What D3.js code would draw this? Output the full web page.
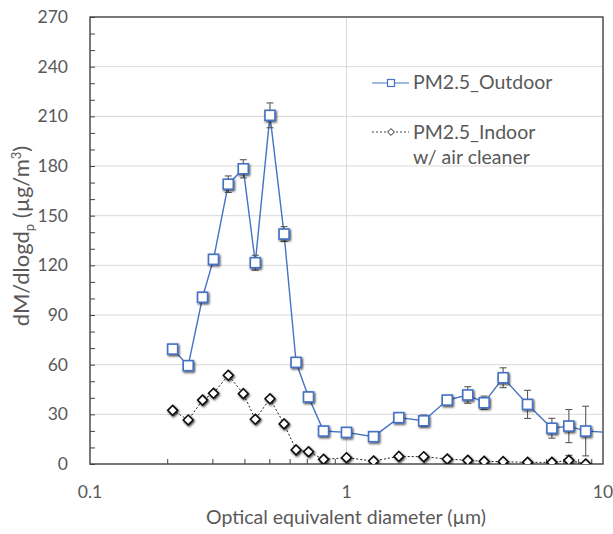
<!DOCTYPE html>
<html>
<head>
<meta charset="utf-8">
<script src="https://cdn.jsdelivr.net/npm/d3@7"></script>
<style>
  body { margin: 0; background: #fff; }
  text { font-family: Lato, "Open Sans", sans-serif; fill: #595959; }
</style>
</head>
<body>
<div id="chart"></div>
<script>
// particle size bins (µm), shared by both series
const diameters = [0.21, 0.2415, 0.2747, 0.303, 0.346, 0.396, 0.441, 0.503, 0.571, 0.636, 0.711, 0.814,
    1.0, 1.275, 1.6, 2.0, 2.47, 2.97, 3.44, 4.08, 5.08, 6.32, 7.36, 8.56, 11.5];
const outdoor = [69.4, 59.4, 100.7, 123.6, 169, 178.3, 121.6, 210.6, 138.9, 61.4, 40.5, 19.9,
    19.1, 16.5, 28, 26.1, 38.6, 41.7, 37, 52.1, 36, 21.6, 22.9, 19.9, 18.7];
const outdoorErr = [2, 2, 3, 3, 5, 5.5, 4.5, 7.5, 4.5, 2, 3, 2,
    1.5, 1, 3, 3.5, 2, 5, 4, 6, 8.5, 6, 10, 15, 0];
const indoor = [32.4, 26.6, 38.6, 42.7, 53.6, 42.5, 27, 39.4, 24.2, 8.5, 7.4, 2.8,
    3.8, 1.8, 4.6, 4.4, 3.0, 2.2, 1.6, 1.4, 1.0, 1.0, 2.2, 0.0];
const indoorErr = [1, 1, 1, 1, 1, 1, 1, 1, 1, 1, 1, 1,
    1, 1, 1, 1, 1, 1, 1, 1, 1, 1, 3, 1];
const yTicks = [0, 30, 60, 90, 120, 150, 180, 210, 240, 270];
const xTicks = [0.1, 1, 10];

const margin = { top: 17, right: 10, bottom: 70, left: 90 },
    width = 613 - margin.left - margin.right,
    height = 534 - margin.top - margin.bottom;

const svg = d3.select("#chart")
    .append("svg")
    .attr("width", 613)
    .attr("height", 534);

const defs = svg.append("defs");
defs.append("clipPath").attr("id", "plotclip")
    .append("rect").attr("width", width).attr("height", height + 8).attr("y", -8);
defs.append("filter").attr("id", "shadow")
    .attr("x", "-50%").attr("y", "-50%").attr("width", "200%").attr("height", "200%")
    .append("feDropShadow")
    .attr("dx", 1).attr("dy", 1.3).attr("stdDeviation", 1.3)
    .attr("flood-color", "#000").attr("flood-opacity", 0.75);

const g = svg.append("g")
    .attr("transform", `translate(${margin.left},${margin.top})`);

const x = d3.scaleLog().domain([0.1, 10]).range([0, width]);
const y = d3.scaleLinear().domain([0, 270]).range([height, 0]);

// gridlines
g.append("g")
    .selectAll("line")
    .data(yTicks.filter(d => d > 0 && d < 270))
    .join("line")
    .attr("x1", 0).attr("x2", width)
    .attr("y1", d => y(d)).attr("y2", d => y(d))
    .attr("stroke", "#d9d9d9").attr("stroke-width", 1);
g.append("line")
    .attr("x1", x(1)).attr("x2", x(1))
    .attr("y1", 0).attr("y2", height)
    .attr("stroke", "#d9d9d9").attr("stroke-width", 1);

// frame
g.append("rect")
    .attr("width", width).attr("height", height)
    .attr("fill", "none").attr("stroke", "#404040").attr("stroke-width", 1.4);

// Y axis (minor ticks every 10, inward)
const yAxis = g.append("g")
    .call(d3.axisLeft(y).tickValues(d3.range(0, 271, 10)).tickSize(-5).tickFormat(""));
yAxis.select(".domain").remove();
yAxis.selectAll("line").attr("stroke", "#404040");
g.append("g")
    .selectAll("text")
    .data(yTicks)
    .join("text")
    .attr("x", -22)
    .attr("y", d => y(d))
    .attr("dy", "0.35em")
    .attr("text-anchor", "end")
    .style("font-size", "17.5px")
    .text(d => d);

// X axis
const minorX = [];
[0.1, 1].forEach(dec => { for (let k = 2; k <= 9; k++) minorX.push(dec * k); });
const xAxis = g.append("g")
    .attr("transform", `translate(0, ${height})`)
    .call(d3.axisBottom(x).tickValues(minorX).tickSize(-5).tickFormat(""));
xAxis.select(".domain").remove();
xAxis.selectAll("line").attr("stroke", "#404040");
g.append("g")
    .selectAll("text")
    .data(xTicks)
    .join("text")
    .attr("x", d => x(d))
    .attr("y", height + 34)
    .attr("text-anchor", "middle")
    .style("font-size", "17.5px")
    .text(d => d);

// axis titles
svg.append("text")
    .attr("x", 346)
    .attr("y", 524)
    .attr("text-anchor", "middle")
    .style("font-size", "19.5px")
    .text("Optical equivalent diameter (µm)");

const yTitle = svg.append("text")
    .attr("transform", `translate(29, 236) rotate(-90)`)
    .attr("text-anchor", "middle")
    .style("font-size", "22px");
yTitle.append("tspan").text("dM/dlogd");
yTitle.append("tspan").attr("dy", 5).style("font-size", "13px").text("p");
yTitle.append("tspan").attr("dy", -5).text(" (µg/m");
yTitle.append("tspan").attr("dy", -8).style("font-size", "13px").text("3");
yTitle.append("tspan").attr("dy", 8).text(")");

const outData = diameters.map((d, i) => ({ d: d, v: outdoor[i], e: outdoorErr[i] }));
const inData = indoor.map((v, i) => ({ d: diameters[i], v: v, e: indoorErr[i] }));

const plot = g.append("g").attr("clip-path", "url(#plotclip)");

// error bars
function errorBars(data, color) {
    const eb = plot.append("g").attr("stroke", color).attr("stroke-width", 1.1);
    const withErr = data.filter(p => p.e > 0);
    eb.selectAll(".stem").data(withErr).join("line")
        .attr("x1", p => x(p.d)).attr("x2", p => x(p.d))
        .attr("y1", p => y(p.v - p.e)).attr("y2", p => y(p.v + p.e));
    eb.selectAll(".capT").data(withErr).join("line")
        .attr("x1", p => x(p.d) - 3.5).attr("x2", p => x(p.d) + 3.5)
        .attr("y1", p => y(p.v + p.e)).attr("y2", p => y(p.v + p.e));
    eb.selectAll(".capB").data(withErr).join("line")
        .attr("x1", p => x(p.d) - 3.5).attr("x2", p => x(p.d) + 3.5)
        .attr("y1", p => y(p.v - p.e)).attr("y2", p => y(p.v - p.e));
}

const line = d3.line().x(p => x(p.d)).y(p => y(p.v));

// indoor series
plot.append("path")
    .datum(inData)
    .attr("d", line)
    .attr("fill", "none")
    .attr("stroke", "#222")
    .attr("stroke-width", 1)
    .attr("stroke-dasharray", "2,2");
errorBars(inData, "#595959");
plot.append("g")
    .selectAll("path")
    .data(inData)
    .join("path")
    .attr("d", d3.symbol(d3.symbolDiamond2, 62))
    .attr("transform", p => `translate(${x(p.d)},${y(p.v)})`)
    .attr("fill", "#fff")
    .attr("stroke", "#111")
    .attr("stroke-width", 1.6)
    .attr("filter", "url(#shadow)");

// outdoor series
plot.append("path")
    .datum(outData)
    .attr("d", line)
    .attr("fill", "none")
    .attr("stroke", "#4472c4")
    .attr("stroke-width", 1.4);
errorBars(outData, "#595959");
plot.append("g")
    .selectAll("rect")
    .data(outData.filter(p => p.d <= 10))
    .join("rect")
    .attr("x", p => x(p.d) - 5)
    .attr("y", p => y(p.v) - 5)
    .attr("width", 10)
    .attr("height", 10)
    .attr("fill", "#fff")
    .attr("stroke", "#4472c4")
    .attr("stroke-width", 1.6)
    .attr("filter", "url(#shadow)");

// legend
const legend = svg.append("g");
legend.append("line")
    .attr("x1", 372).attr("x2", 409).attr("y1", 83).attr("y2", 83)
    .attr("stroke", "#4472c4").attr("stroke-width", 1.2);
legend.append("rect")
    .attr("x", 387.5).attr("y", 79.5).attr("width", 7).attr("height", 7)
    .attr("fill", "#fff").attr("stroke", "#4472c4").attr("stroke-width", 1.2);
legend.append("text").attr("x", 413).attr("y", 89).style("font-size", "19.5px").text("PM2.5_Outdoor");

legend.append("line")
    .attr("x1", 372).attr("x2", 409).attr("y1", 132).attr("y2", 132)
    .attr("stroke", "#404040").attr("stroke-width", 1).attr("stroke-dasharray", "2,2");
legend.append("path")
    .attr("d", d3.symbol(d3.symbolDiamond2, 30))
    .attr("transform", "translate(391,132)")
    .attr("fill", "#fff").attr("stroke", "#222").attr("stroke-width", 1);
legend.append("text").attr("x", 413).attr("y", 138.5).style("font-size", "19.5px").text("PM2.5_Indoor");
legend.append("text").attr("x", 413).attr("y", 164).style("font-size", "19.5px").text("w/ air cleaner");
</script>
</body>
</html>
